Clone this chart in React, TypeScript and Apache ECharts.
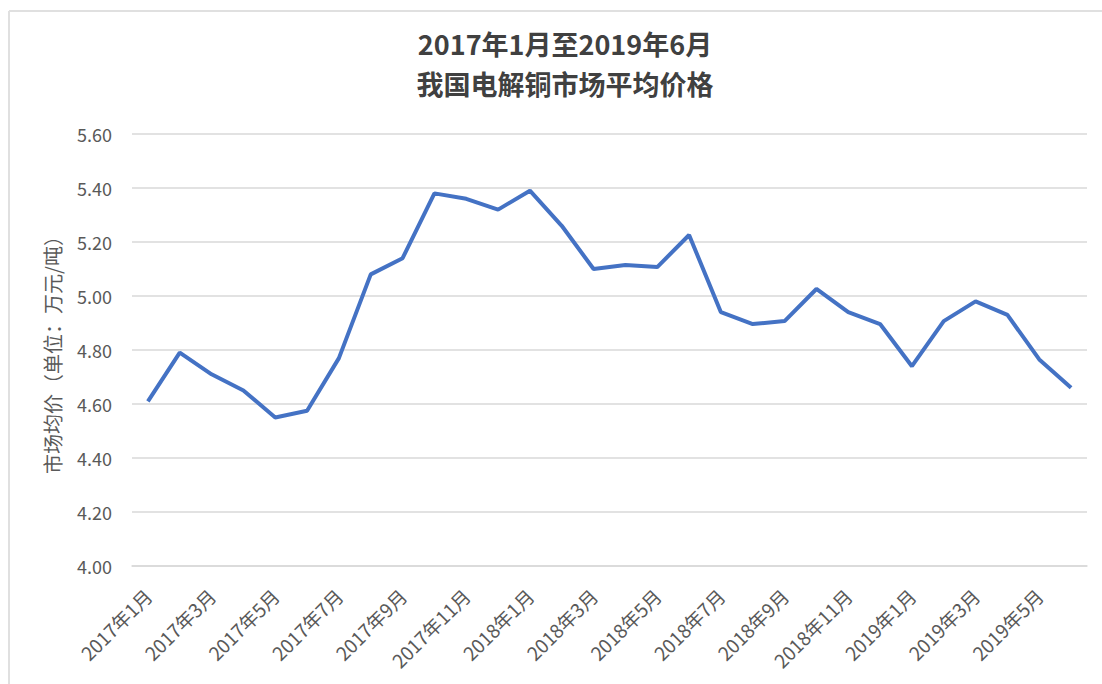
import React, { useEffect, useRef } from "react";
import * as echarts from "echarts";

const months: string[] = [
  "2017年1月", "2017年2月", "2017年3月", "2017年4月", "2017年5月", "2017年6月",
  "2017年7月", "2017年8月", "2017年9月", "2017年10月", "2017年11月", "2017年12月",
  "2018年1月", "2018年2月", "2018年3月", "2018年4月", "2018年5月", "2018年6月",
  "2018年7月", "2018年8月", "2018年9月", "2018年10月", "2018年11月", "2018年12月",
  "2019年1月", "2019年2月", "2019年3月", "2019年4月", "2019年5月", "2019年6月",
];

const avgPrice: number[] = [
  4.61, 4.79, 4.71, 4.65, 4.55, 4.575,
  4.77, 5.08, 5.14, 5.38, 5.36, 5.32,
  5.39, 5.26, 5.10, 5.115, 5.107, 5.226,
  4.94, 4.896, 4.907, 5.026, 4.94, 4.896,
  4.74, 4.907, 4.98, 4.93, 4.765, 4.66,
];

const titleText = "2017年1月至2019年6月\n我国电解铜市场平均价格";
const yAxisName = "市场均价（单位：万元/吨）";

const FONT = "'Noto Sans CJK SC', 'Noto Sans', sans-serif";

export default function App() {
  const ref = useRef<HTMLDivElement>(null);
  useEffect(() => {
    if (!ref.current) return;
    const chart = echarts.init(ref.current, undefined, { renderer: "svg" });
    chart.setOption({
      animation: false,
      backgroundColor: "#ffffff",
      textStyle: { fontFamily: FONT },
      title: {
        text: titleText,
        left: 560,
        textAlign: "center",
        top: 18,
        textStyle: {
          fontSize: 27,
          fontWeight: "bold",
          color: "#404040",
          lineHeight: 40,
          fontFamily: FONT,
        },
      },
      graphic: [
        {
          type: "line",
          shape: { x1: 9, y1: 11, x2: 1102, y2: 11 },
          style: { stroke: "#e0e0e0", lineWidth: 2 },
        },
        {
          type: "line",
          shape: { x1: 9, y1: 11, x2: 9, y2: 684 },
          style: { stroke: "#e0e0e0", lineWidth: 2 },
        },
      ],
      grid: { left: 132, right: 15, top: 134, bottom: 118, containLabel: false },
      xAxis: {
        type: "category",
        data: months,
        boundaryGap: true,
        axisTick: { show: false },
        axisLine: { show: true, lineStyle: { color: "#d9d9d9", width: 1.5 } },
        axisLabel: {
          interval: 1,
          rotate: 45,
          fontSize: 19,
          color: "#595959",
          margin: 26,
          fontFamily: FONT,
        },
      },
      yAxis: {
        type: "value",
        min: 4,
        max: 5.6,
        interval: 0.2,
        name: yAxisName,
        nameLocation: "middle",
        nameGap: 70,
        nameTextStyle: { fontSize: 20, color: "#595959", fontFamily: FONT },
        axisLine: { show: false },
        axisTick: { show: false },
        axisLabel: {
          fontSize: 18,
          color: "#595959",
          margin: 20,
          formatter: (v: number) => v.toFixed(2),
          fontFamily: FONT,
        },
        splitLine: { lineStyle: { color: "#d9d9d9", width: 1.5 } },
      },
      series: [
        {
          type: "line",
          data: avgPrice,
          symbol: "none",
          lineStyle: { color: "#4472C4", width: 4 },
          itemStyle: { color: "#4472C4" },
        },
      ],
    });
    return () => chart.dispose();
  }, []);
  return (
    <div
      ref={ref}
      style={{ position: "fixed", left: 0, top: 0, width: 1102, height: 684 }}
    />
  );
}
